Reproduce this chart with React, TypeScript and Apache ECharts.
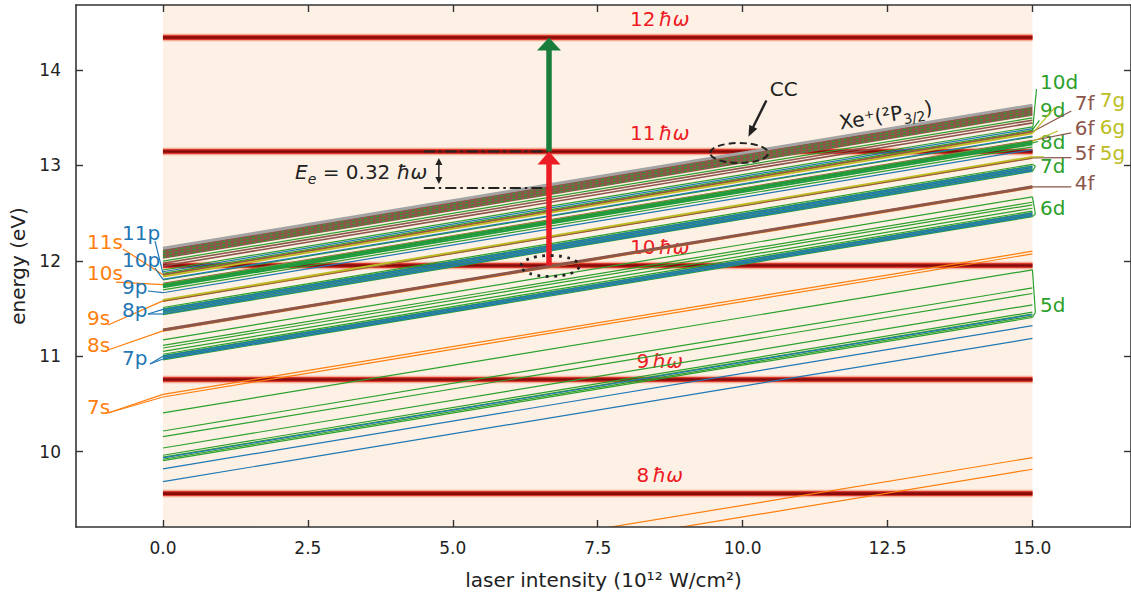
import React, { useEffect, useRef } from "react";
import * as echarts from "echarts";

const FONT = "DejaVu Sans";
const ORANGE = "#ff7f0e";
const BLUE = "#1f77b4";
const GREEN = "#2ca02c";
const BROWN = "#8c564b";
const OLIVE = "#bcbd22";
const GRAY = "#a3a3a3";
const PHOTON_RED = "#ec1c24";
const ARROW_GREEN = "#1b7d3c";
const INK = "#222222";
const PEACH = "#fdf1e6";

// axes
const X_MIN = -1.5;
const X_MAX = 16.7;
const Y_MIN = 9.21;
const Y_MAX = 14.68;
const X_TICKS = [0, 2.5, 5, 7.5, 10, 12.5, 15];
const Y_TICKS = [10, 11, 12, 13, 14];

// intensity span of the level diagram and the ponderomotive shift at its end (eV)
const INTENSITY_START = 0;
const INTENSITY_END = 15;
const SHIFT_AT_END = 1.5;

// photon lines
const PHOTON_ORDERS = ["8", "9", "10", "11", "12"];
const PHOTON_EV = [9.56, 10.755, 11.95, 13.145, 14.34];

// field-free level energies at zero intensity (eV)
const S_EV = [8.315, 8.437, 10.572, 10.6, 11.262, 11.28, 11.575, 11.585, 11.745, 11.755, 11.848, 11.858];
const D_EV = [
  9.905, 9.92, 9.942, 9.962, 10.038, 10.157, 10.216, 10.405,
  10.962, 10.975, 10.99, 11.005, 11.02, 11.05, 11.086, 11.113, 11.17,
  11.435, 11.45, 11.465, 11.48, 11.495, 11.51,
  11.694, 11.798, 11.868, 11.903, 11.997,
];
const D_THICK_EV = [11.72, 11.735, 11.75];
const P_EV = [9.686, 9.82, 9.935, 10.97, 10.985, 11.0, 11.442, 11.458, 11.475, 11.49, 11.665, 11.805, 11.885];
const F_EV = [11.578, 11.76, 11.852, 11.945, 11.973];
const F_THICK_EV = [11.275];
const G_EV = [11.589, 11.752, 11.835];
const F_BAND_EV = [12.02, 12.12];
const D_DASHED_EV = [12.035, 12.065, 12.095];
const ION_EV = [12.13];

// annotations (data coordinates)
const ARROW_X = 6.66;
const RED_ARROW_EV = [11.95, 13.145];
const GREEN_ARROW_EV = [13.145, 14.34];
const DASHDOT_EV = [13.145, 12.763];
const DASHDOT_X = [4.5, 6.64];
const EE_ARROW = { x: 4.76, ev: [13.077, 12.804] };

const LEFT_LABELS = [
  { text: "11p", color: BLUE, at: [-0.707, 12.291], from: [-0.138, 12.207], levels: [11.87] },
  { text: "11s", color: ORANGE, at: [-1.31, 12.197], from: [-0.69, 12.123], levels: [11.853] },
  { text: "10p", color: BLUE, at: [-0.707, 12.008], from: [-0.138, 11.924], levels: [11.805] },
  { text: "10s", color: ORANGE, at: [-1.31, 11.872], from: [-0.811, 11.777], levels: [11.75] },
  { text: "9p", color: BLUE, at: [-0.707, 11.725], from: [-0.259, 11.683], levels: [11.665] },
  { text: "9s", color: ORANGE, at: [-1.31, 11.4], from: [-0.949, 11.327], levels: [11.58] },
  { text: "8p", color: BLUE, at: [-0.707, 11.484], from: [-0.259, 11.442], levels: [11.442, 11.49] },
  { text: "8s", color: ORANGE, at: [-1.31, 11.117], from: [-0.949, 11.065], levels: [11.265] },
  { text: "7p", color: BLUE, at: [-0.707, 10.981], from: [-0.224, 10.918], levels: [10.97, 11.0] },
  { text: "7s", color: ORANGE, at: [-1.31, 10.468], from: [-0.949, 10.405], levels: [10.572, 10.6] },
];

const RIGHT_LABELS = [
  { text: "10d", color: GREEN, at: [15.13, 13.873], from: [15.07, 13.8], levels: [11.855] },
  { text: "9d", color: GREEN, at: [15.13, 13.58], from: [15.12, 13.47], levels: [11.87] },
  { text: "8d", color: GREEN, at: [15.13, 13.244], from: [15.1, 13.25], levels: [11.735] },
  { text: "7d", color: GREEN, at: [15.13, 12.993], from: [15.05, 12.99], levels: [11.51, 11.435] },
  { text: "6d", color: GREEN, at: [15.13, 12.553], from: [15.05, 12.49], levels: [11.17, 10.962] },
  { text: "5d", color: GREEN, at: [15.13, 11.536], from: [15.05, 11.46], levels: [10.405, 9.905] },
  { text: "7f", color: BROWN, at: [15.73, 13.653], from: [15.67, 13.57], levels: [11.852] },
  { text: "6f", color: BROWN, at: [15.73, 13.391], from: [15.67, 13.34], levels: [11.76] },
  { text: "5f", color: BROWN, at: [15.73, 13.129], from: [15.67, 13.08], levels: [11.578] },
  { text: "4f", color: BROWN, at: [15.73, 12.815], from: [15.67, 12.775], levels: [11.275] },
  { text: "7g", color: OLIVE, at: [16.16, 13.685], from: [15.39, 13.61], levels: [11.835] },
  { text: "6g", color: OLIVE, at: [16.16, 13.402], from: [15.44, 13.36], levels: [11.752] },
  { text: "5g", color: OLIVE, at: [16.16, 13.129], from: [15.2, 13.09], levels: [11.589] },
];

const PHOTON_LABEL_X = 8.57;
const PHOTON_LABEL_OFFSET = 0.195;
const CC_TEXT_AT = [10.71, 13.795];
const CC_ARROW = [[10.41, 13.68], [10.1, 13.3]];
const CC_ELLIPSE = [9.94, 13.129];
const DOT_ELLIPSE = [6.68, 11.945];
const ION_TEXT_AT = [12.47, 13.527];
const EE_TEXT_AT = [3.42, 12.93];

function levelSeries(ev: number[], color: string, width: number, dash?: number[]) {
  return {
    type: "custom",
    coordinateSystem: "cartesian2d",
    clip: true,
    silent: true,
    data: ev.map((e) => [INTENSITY_START, e]),
    renderItem: (_p: any, api: any) => {
      const e = api.value(1);
      const a = api.coord([INTENSITY_START, e]);
      const b = api.coord([INTENSITY_END, e + SHIFT_AT_END]);
      return {
        type: "line",
        shape: { x1: a[0], y1: a[1], x2: b[0], y2: b[1] },
        style: { stroke: color, lineWidth: width, lineDash: dash, fill: null },
      };
    },
  };
}

function arrowHead(a: number[], b: number[], len: number, w: number, color: string) {
  const dx = b[0] - a[0];
  const dy = b[1] - a[1];
  const L = Math.hypot(dx, dy) || 1;
  const ux = dx / L;
  const uy = dy / L;
  const bx = b[0] - ux * len;
  const by = b[1] - uy * len;
  return {
    type: "polygon",
    shape: { points: [[b[0], b[1]], [bx - uy * w / 2, by + ux * w / 2], [bx + uy * w / 2, by - ux * w / 2]] },
    style: { fill: color, stroke: null },
  };
}

function arrow(a: number[], b: number[], color: string, lw: number, len: number, w: number) {
  const dx = b[0] - a[0];
  const dy = b[1] - a[1];
  const L = Math.hypot(dx, dy) || 1;
  const end = [b[0] - (dx / L) * len * 0.8, b[1] - (dy / L) * len * 0.8];
  return [
    { type: "line", shape: { x1: a[0], y1: a[1], x2: end[0], y2: end[1] }, style: { stroke: color, lineWidth: lw } },
    arrowHead(a, b, len, w, color),
  ];
}

function txt(p: number[], text: string, fill: string, size: number, align = "left", extra: any = {}) {
  return {
    type: "text",
    x: p[0],
    y: p[1],
    ...extra,
    style: { text, fill, fontSize: size, fontFamily: FONT, align, verticalAlign: "middle", ...(extra.style || {}) },
  };
}

export default function App() {
  const ref = useRef<HTMLDivElement>(null);
  useEffect(() => {
    if (!ref.current) return;
    const chart = echarts.init(ref.current, null, { renderer: "svg" });

    const axisCommon = {
      type: "value",
      splitLine: { show: false },
      z: 10,
    };

    const option: any = {
      animation: false,
      backgroundColor: "#ffffff",
      grid: { left: 76, right: 0, top: 5, bottom: 71 },
      xAxis: [
        {
          ...axisCommon,
          min: X_MIN,
          max: X_MAX,
          position: "bottom",
          axisLine: { show: true, onZero: false, lineStyle: { color: "#333", width: 1.6 } },
          axisTick: { show: true, inside: true, length: 7, customValues: X_TICKS, lineStyle: { color: "#333", width: 1.4 } },
          axisLabel: {
            customValues: X_TICKS,
            formatter: (v: number) => v.toFixed(1),
            fontSize: 17,
            color: INK,
            fontFamily: FONT,
            margin: 12,
          },
          name: "laser intensity (10¹² W/cm²)",
          nameLocation: "middle",
          nameGap: 43,
          nameTextStyle: { fontSize: 20, color: INK, fontFamily: FONT },
        },
        {
          ...axisCommon,
          min: X_MIN,
          max: X_MAX,
          position: "top",
          axisLine: { show: true, onZero: false, lineStyle: { color: "#333", width: 1.6 } },
          axisTick: { show: true, inside: true, length: 7, customValues: X_TICKS, lineStyle: { color: "#333", width: 1.4 } },
          axisLabel: { show: false },
        },
      ],
      yAxis: [
        {
          ...axisCommon,
          min: Y_MIN,
          max: Y_MAX,
          position: "left",
          axisLine: { show: true, onZero: false, lineStyle: { color: "#333", width: 1.6 } },
          axisTick: { show: true, inside: true, length: 7, customValues: Y_TICKS, lineStyle: { color: "#333", width: 1.4 } },
          axisLabel: { customValues: Y_TICKS, fontSize: 17, color: INK, fontFamily: FONT, margin: 15 },
          name: "energy (eV)",
          nameLocation: "middle",
          nameGap: 42,
          nameTextStyle: { fontSize: 20, color: INK, fontFamily: FONT },
        },
        {
          ...axisCommon,
          min: Y_MIN,
          max: Y_MAX,
          position: "right",
          axisLine: { show: true, onZero: false, lineStyle: { color: "#333", width: 1.6 } },
          axisTick: { show: true, inside: true, length: 7, customValues: Y_TICKS, lineStyle: { color: "#333", width: 1.4 } },
          axisLabel: { show: false },
        },
      ],
      series: [
        // background image area
        {
          type: "custom",
          coordinateSystem: "cartesian2d",
          silent: true,
          clip: true,
          data: [[INTENSITY_START, Y_MIN]],
          renderItem: (_p: any, api: any) => {
            const a = api.coord([INTENSITY_START, Y_MAX]);
            const b = api.coord([INTENSITY_END, Y_MIN]);
            return { type: "rect", shape: { x: a[0], y: a[1], width: b[0] - a[0], height: b[1] - a[1] }, style: { fill: PEACH } };
          },
        },
        // photon lines
        {
          type: "custom",
          coordinateSystem: "cartesian2d",
          silent: true,
          clip: false,
          data: PHOTON_EV.map((e) => [INTENSITY_START, e]),
          renderItem: (p: any, api: any) => {
            const e = api.value(1);
            const a = api.coord([INTENSITY_START, e]);
            const b = api.coord([INTENSITY_END, e]);
            const mk = (w: number, c: string) => ({
              type: "line",
              shape: { x1: a[0], y1: a[1], x2: b[0], y2: b[1] },
              style: { stroke: c, lineWidth: w },
            });
            const lp = api.coord([PHOTON_LABEL_X, e + PHOTON_LABEL_OFFSET]);
            return {
              type: "group",
              children: [
                mk(9, "#fbdccd"),
                mk(7, "#f4ae98"),
                mk(5, "#d9392c"),
                mk(2.6, "#860b0b"),
                {
                  type: "text",
                  x: lp[0],
                  y: lp[1],
                  style: {
                    text: `{n|${PHOTON_ORDERS[p.dataIndex]}} {h|ħω}`,
                    align: "center",
                    verticalAlign: "middle",
                    rich: {
                      n: { fontSize: 20, fontFamily: FONT, fill: PHOTON_RED },
                      h: { fontSize: 20, fontFamily: FONT, fill: PHOTON_RED, fontStyle: "italic" },
                    },
                  },
                },
              ],
            };
          },
        },
        levelSeries(S_EV, ORANGE, 1.2),
        levelSeries(D_EV, GREEN, 1.2),
        levelSeries(P_EV, BLUE, 1.2),
        levelSeries(F_EV, BROWN, 1.6),
        levelSeries(F_THICK_EV, BROWN, 3),
        levelSeries(G_EV, OLIVE, 1.8),
        levelSeries(D_THICK_EV, "#1f9a3c", 1.8),
        // high-n f band
        {
          type: "custom",
          coordinateSystem: "cartesian2d",
          silent: true,
          clip: true,
          data: [[INTENSITY_START, F_BAND_EV[0]]],
          renderItem: (_p: any, api: any) => {
            const pts = [
              api.coord([INTENSITY_START, F_BAND_EV[0]]),
              api.coord([INTENSITY_END, F_BAND_EV[0] + SHIFT_AT_END]),
              api.coord([INTENSITY_END, F_BAND_EV[1] + SHIFT_AT_END]),
              api.coord([INTENSITY_START, F_BAND_EV[1]]),
            ];
            return { type: "polygon", shape: { points: pts }, style: { fill: BROWN } };
          },
        },
        levelSeries(D_DASHED_EV, GREEN, 1.2, [3, 3]),
        levelSeries(ION_EV, GRAY, 3),
        // annotations
        {
          type: "custom",
          coordinateSystem: "cartesian2d",
          silent: true,
          clip: false,
          data: [[X_MIN, Y_MIN]],
          renderItem: (_p: any, api: any) => {
            const c = (pt: number[]) => api.coord(pt);
            const ch: any[] = [];
            // level labels and leaders
            LEFT_LABELS.forEach((l) => {
              const f = c(l.from);
              l.levels.forEach((e) => {
                const t = c([INTENSITY_START, e]);
                ch.push({ type: "line", shape: { x1: f[0], y1: f[1], x2: t[0], y2: t[1] }, style: { stroke: l.color, lineWidth: 1.2 } });
              });
              ch.push(txt(c(l.at), l.text, l.color, 20, "left"));
            });
            RIGHT_LABELS.forEach((l) => {
              const f = c(l.from);
              l.levels.forEach((e) => {
                const t = c([INTENSITY_END, e + SHIFT_AT_END]);
                ch.push({ type: "line", shape: { x1: t[0], y1: t[1], x2: f[0], y2: f[1] }, style: { stroke: l.color, lineWidth: 1.2 } });
              });
              ch.push(txt(c(l.at), l.text, l.color, 20, "left"));
            });
            // dash-dot guides
            DASHDOT_EV.forEach((e) => {
              const a = c([DASHDOT_X[0], e]);
              const b = c([DASHDOT_X[1], e]);
              ch.push({ type: "line", shape: { x1: a[0], y1: a[1], x2: b[0], y2: b[1] }, style: { stroke: INK, lineWidth: 2, lineDash: [11, 4, 2.5, 4] } });
            });
            // Ee double arrow
            {
              const a = c([EE_ARROW.x, EE_ARROW.ev[0]]);
              const b = c([EE_ARROW.x, EE_ARROW.ev[1]]);
              ch.push({ type: "line", shape: { x1: a[0], y1: a[1] + 5, x2: b[0], y2: b[1] - 5 }, style: { stroke: INK, lineWidth: 1.5 } });
              ch.push(arrowHead(b, a, 7, 7, INK));
              ch.push(arrowHead(a, b, 7, 7, INK));
            }
            ch.push({
              type: "text",
              x: c(EE_TEXT_AT)[0],
              y: c(EE_TEXT_AT)[1],
              style: {
                text: "{e|E}{s|e}{t| = 0.32 }{h|ħω}",
                align: "center",
                verticalAlign: "middle",
                rich: {
                  e: { fontSize: 20, fontFamily: FONT, fill: INK, fontStyle: "italic", lineHeight: 28, verticalAlign: "middle" },
                  s: { fontSize: 14, fontFamily: FONT, fill: INK, fontStyle: "italic", lineHeight: 16, verticalAlign: "bottom" },
                  t: { fontSize: 20, fontFamily: FONT, fill: INK, lineHeight: 28, verticalAlign: "middle" },
                  h: { fontSize: 20, fontFamily: FONT, fill: INK, fontStyle: "italic", lineHeight: 28, verticalAlign: "middle" },
                },
              },
            });
            // red & green arrows
            ch.push(...arrow(c([ARROW_X, RED_ARROW_EV[0]]), c([ARROW_X, RED_ARROW_EV[1]]), PHOTON_RED, 5.5, 13, 23));
            ch.push(...arrow(c([ARROW_X, GREEN_ARROW_EV[0]]), c([ARROW_X, GREEN_ARROW_EV[1]]), ARROW_GREEN, 5.5, 13, 24));
            // ellipses
            const ce = c(CC_ELLIPSE);
            ch.push({ type: "ellipse", shape: { cx: ce[0], cy: ce[1], rx: 29, ry: 10 }, style: { fill: "none", stroke: INK, lineWidth: 2, lineDash: [7, 4] } });
            const de = c(DOT_ELLIPSE);
            ch.push({ type: "ellipse", shape: { cx: de[0], cy: de[1], rx: 29, ry: 10.5 }, style: { fill: "none", stroke: INK, lineWidth: 2.8, lineDash: [2.8, 5.5] } });
            // CC
            ch.push(txt(c(CC_TEXT_AT), "CC", INK, 20, "center"));
            ch.push(...arrow(c(CC_ARROW[0]), c(CC_ARROW[1]), INK, 2.4, 11, 9));
            // Xe+ label
            const xp = c(ION_TEXT_AT);
            ch.push({
              type: "text",
              x: xp[0],
              y: xp[1],
              rotation: 0.163,
              style: {
                text: "{a|Xe⁺(²P}{s|3/2}{a|)}",
                align: "center",
                verticalAlign: "middle",
                rich: {
                  a: { fontSize: 20, fontFamily: FONT, fill: INK, lineHeight: 28, verticalAlign: "middle" },
                  s: { fontSize: 14, fontFamily: FONT, fill: INK, lineHeight: 16, verticalAlign: "bottom" },
                },
              },
            });
            return { type: "group", children: ch };
          },
        },
      ],
    };

    chart.setOption(option);
    return () => chart.dispose();
  }, []);

  return (
    <div
      ref={ref}
      style={{ position: "fixed", left: 0, top: 0, width: 1131, height: 598, background: "#fff" }}
    />
  );
}
